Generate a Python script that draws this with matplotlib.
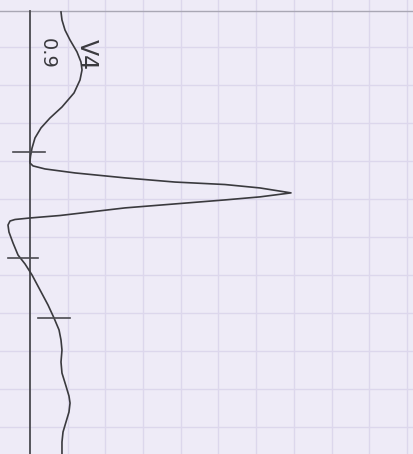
import matplotlib
matplotlib.use("Agg")
import matplotlib.pyplot as plt

# ECG lead V4 (rotated strip): time runs downward, amplitude to the right
time_s = [0.016, 0.058, 0.111, 0.163, 0.226, 0.279, 0.321, 0.374, 0.442, 0.516,
          0.574, 0.626, 0.679, 0.732, 0.774, 0.800, 0.811, 0.826, 0.842, 0.863,
          0.889, 0.911, 0.924, 0.942, 0.968, 0.989, 1.005, 1.047, 1.087, 1.100,
          1.108, 1.116, 1.137, 1.174, 1.232, 1.295, 1.342, 1.400, 1.479, 1.558,
          1.626, 1.689, 1.742, 1.795, 1.858, 1.916, 1.984, 2.037, 2.074, 2.121,
          2.174, 2.226, 2.279, 2.353]
amp_mv = [0.411, 0.424, 0.464, 0.530, 0.623, 0.676, 0.690, 0.663, 0.584, 0.424,
          0.265, 0.146, 0.066, 0.027, 0.007, 0.000, 0.000, 0.040, 0.199, 0.597,
          1.260, 1.923, 2.586, 3.050, 3.462, 3.050, 2.586, 1.260, 0.398, 0.000,
          -0.199, -0.265, -0.292, -0.279, -0.225, -0.159, -0.066, 0.027, 0.133, 0.239,
          0.318, 0.385, 0.411, 0.424, 0.411, 0.424, 0.477, 0.517, 0.531, 0.517,
          0.477, 0.438, 0.424, 0.424]

# measurement markers: (time, amp start, amp end)
marker_t = [0.753, 1.311, 1.626]
marker_a0 = [-0.225, -0.292, 0.106]
marker_a1 = [0.199, 0.106, 0.531]

lead_label = "V4"
gain_label = "0.9"

grid_amp = [0.5 * k for k in range(1, 11)]
grid_time = [0.2 * k for k in range(1, 12)]

fig = plt.figure(figsize=(4.13, 4.54), dpi=100)
ax = fig.add_axes([0, 0, 1, 1])
bg = "#eeebf7"
fig.patch.set_facecolor(bg)
ax.set_facecolor(bg)
ax.set_xlim(-0.398, 5.08)
ax.set_ylim(2.342, -0.047)
ax.axis("off")

for g in grid_amp:
    ax.axvline(g, color="#dcd7ec", lw=1.0, zorder=1)
for g in grid_time:
    ax.axhline(g, color="#dcd7ec", lw=1.0, zorder=1)

# paper edge at top
ax.axhline(0.0105, color="#a9a7b4", lw=1.0, zorder=2)
# baseline
ax.plot([0, 0], [0.0105, 2.342], color="#4a4a4f", lw=1.3, zorder=3)

ax.plot(amp_mv, time_s, color="#3a3a3e", lw=1.2, zorder=4,
        solid_joinstyle="round")

for t, a0, a1 in zip(marker_t, marker_a0, marker_a1):
    ax.plot([a0, a1], [t, t], color="#4a4a4f", lw=1.2, zorder=4)

ax.text(0.76, 0.24, lead_label, rotation=-90, ha="center", va="center",
        fontsize=17, color="#3a3a3e", zorder=5)
ax.text(0.225, 0.235, gain_label, rotation=-90, ha="center", va="center",
        fontsize=14, color="#3a3a3e", zorder=5)

fig.savefig("out.png", dpi=100, facecolor=bg)
